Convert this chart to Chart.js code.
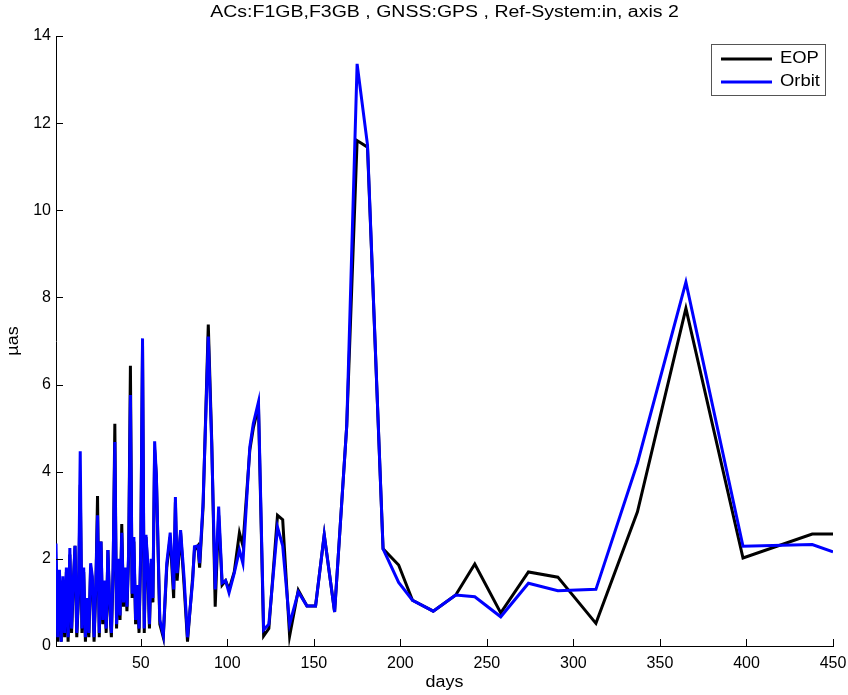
<!DOCTYPE html>
<html>
<head>
<meta charset="utf-8">
<script src="https://cdn.jsdelivr.net/npm/chart.js@4.4.1/dist/chart.umd.min.js"></script>
<style>
  body { margin: 0; background: #fff; }
  #wrap { width: 848px; height: 695px; }
</style>
</head>
<body>
<div id="wrap"><canvas id="grafica" width="848" height="695"></canvas></div>
<script>
/* DATOS: días de cada solución y valores en µas */
const dias = [
  1, 2, 3, 4, 5, 6, 7, 8, 9, 10, 11, 12, 13, 14, 15, 16, 17, 18, 19, 20,
  21, 22, 23, 24, 25, 26, 27, 28, 29, 30, 31, 32, 33, 34, 35, 36, 37, 38, 39, 40,
  41, 42, 43, 44, 45, 46, 47, 48, 49, 50, 51, 52, 53, 54, 55, 56, 57, 58, 59,
  61, 63, 65, 67, 69, 70, 71, 73, 75, 77, 80, 81, 83, 84, 86, 89, 91, 93, 95, 97,
  99, 101, 104, 107, 109, 113, 115, 118, 121, 124, 129, 132, 136, 141, 146, 151, 156, 162, 169, 175,
  181, 190, 199, 207, 219, 232, 243, 258, 274, 291, 313, 337, 365, 398, 438, 450,
];

const eop = [
  2.0, 0.1, 1.7, 0.1, 1.5, 0.2, 1.7, 0.1, 2.1, 0.3, 1.4, 2.3, 0.2, 1.1, 3.7, 0.3, 1.7, 0.1, 1.0, 0.2,
  1.8, 1.5, 0.1, 1.3, 3.44, 0.2, 2.4, 0.5, 1.4, 0.3, 2.2, 0.9, 0.2, 1.7, 5.1, 0.4, 1.9, 0.6, 2.8, 0.9,
  1.7, 0.8, 2.1, 6.43, 1.1, 2.4, 0.5, 1.3, 0.3, 2.2, 6.9, 0.3, 2.5, 1.8, 0.4, 1.9, 1.0, 4.5, 3.9,
  0.5, 0.2, 1.8, 2.5, 1.1, 3.3, 1.5, 2.6, 1.4, 0.1, 1.6, 2.2, 2.3, 1.8, 3.2, 7.38, 4.7, 0.9, 3.0, 1.4,
  1.5, 1.3, 1.7, 2.6, 2.3, 4.5, 5.0, 5.5, 0.23, 0.4, 3.0, 2.9, 0.23, 1.28, 0.92, 0.92, 2.55, 0.78, 5.05, 11.6,
  11.45, 2.23, 1.86, 1.05, 0.8, 1.17, 1.88, 0.76, 1.7, 1.58, 0.52, 3.08, 7.75, 2.02, 2.57, 2.57,
];

const orbita = [
  2.35, 0.2, 1.75, 0.1, 1.6, 0.3, 1.8, 0.2, 2.25, 0.4, 1.5, 2.3, 0.3, 1.2, 4.47, 0.4, 1.8, 0.2, 1.1, 0.3,
  1.9, 1.6, 0.2, 1.4, 3.0, 0.3, 2.4, 0.6, 1.5, 0.4, 2.2, 1.0, 0.3, 1.8, 4.68, 0.5, 2.0, 0.7, 2.6, 1.0,
  1.8, 0.9, 2.2, 5.76, 1.2, 2.5, 0.6, 1.4, 0.4, 2.3, 7.06, 0.4, 2.55, 1.9, 0.5, 2.0, 1.1, 4.7, 3.9,
  0.6, 0.25, 1.9, 2.6, 1.3, 3.42, 1.67, 2.66, 1.58, 0.2, 1.5, 2.28, 2.3, 1.9, 3.3, 7.1, 4.6, 1.3, 3.2, 1.45,
  1.5, 1.22, 1.67, 2.2, 1.9, 4.57, 5.1, 5.6, 0.37, 0.5, 2.73, 2.3, 0.5, 1.24, 0.92, 0.92, 2.55, 0.78, 5.05, 13.36,
  11.5, 2.23, 1.46, 1.05, 0.8, 1.17, 1.13, 0.67, 1.44, 1.27, 1.3, 4.2, 8.35, 2.29, 2.33, 2.16,
];

const ticksX = [50, 100, 150, 200, 250, 300, 350, 400, 450];
const ticksY = [0, 2, 4, 6, 8, 10, 12, 14];
const titulo = 'ACs:F1GB,F3GB , GNSS:GPS , Ref-System:in, axis 2';
const tituloX = 'days';
const tituloY = 'µas';
const FUENTE = '"Liberation Sans", Arial, sans-serif';

const puntos = valores => dias.map((d, i) => ({ x: d, y: valores[i] }));

/* Texto algo más ancho, como el de la figura original */
function texto(ctx, cadena, x, y, ancho, giro) {
  ctx.save();
  ctx.translate(x, y);
  if (giro) ctx.rotate(giro);
  ctx.scale(ancho, 1);
  ctx.fillText(cadena, 0, 0);
  ctx.restore();
}

/* TÍTULOS, MARCAS HACIA DENTRO Y LEYENDA */
const extras = {
  id: 'extras',
  afterDraw(chart) {
    const { ctx, chartArea, scales } = chart;
    const centroX = (chartArea.left + chartArea.right) / 2;
    const centroY = (chartArea.top + chartArea.bottom) / 2;
    ctx.save();

    ctx.fillStyle = '#000';
    ctx.font = `16px ${FUENTE}`;
    ctx.textAlign = 'center';
    ctx.textBaseline = 'middle';
    texto(ctx, titulo, centroX, 13, 1.22);
    texto(ctx, tituloX, centroX, 683, 1.12);
    texto(ctx, tituloY, 14, centroY, 1.12, -Math.PI / 2);

    /* Marcas de los ejes */
    ctx.strokeStyle = '#000';
    ctx.lineWidth = 1;
    ticksX.forEach(v => {
      const px = Math.round(scales.x.getPixelForValue(v)) + 0.5;
      ctx.beginPath();
      ctx.moveTo(px, chartArea.bottom);
      ctx.lineTo(px, chartArea.bottom - 7);
      ctx.stroke();
    });
    ticksY.forEach(v => {
      const py = Math.round(scales.y.getPixelForValue(v)) + 0.5;
      ctx.beginPath();
      ctx.moveTo(chartArea.left, py);
      ctx.lineTo(chartArea.left + 7, py);
      ctx.stroke();
    });

    /* Leyenda con recuadro */
    const lx = 711.5, ly = 44.5, lw = 114, lh = 51;
    ctx.fillStyle = '#fff';
    ctx.fillRect(lx, ly, lw, lh);
    ctx.strokeStyle = '#555';
    ctx.strokeRect(lx, ly, lw, lh);
    chart.data.datasets.slice().reverse().forEach((ds, i) => {
      const y = 59 + i * 23;
      ctx.strokeStyle = ds.borderColor;
      ctx.lineWidth = 3;
      ctx.beginPath();
      ctx.moveTo(721, y);
      ctx.lineTo(772, y);
      ctx.stroke();
      ctx.fillStyle = '#000';
      ctx.textAlign = 'left';
      texto(ctx, ds.label, 780, y, 1.15);
    });

    ctx.restore();
  },
};

/* GRÁFICA */
new Chart(document.getElementById('grafica'), {
  type: 'line',
  data: {
    datasets: [
      {
        label: 'Orbit',
        data: puntos(orbita),
        borderColor: '#0000ff',
        borderWidth: 3,
        pointRadius: 0,
        tension: 0,
        order: 0,
      },
      {
        label: 'EOP',
        data: puntos(eop),
        borderColor: '#000000',
        borderWidth: 3,
        pointRadius: 0,
        tension: 0,
        order: 1,
      },
    ],
  },
  options: {
    responsive: false,
    animation: false,
    events: [],
    layout: { padding: { top: 36, right: 15, left: 0, bottom: 0 } },
    plugins: {
      legend: { display: false },
      tooltip: { enabled: false },
    },
    scales: {
      x: {
        type: 'linear',
        min: 1,
        max: 450,
        afterBuildTicks: eje => { eje.ticks = ticksX.map(v => ({ value: v })); },
        afterFit: eje => {
          eje.height = 49;
          eje.paddingLeft = 0;
          eje.paddingRight = 0;
        },
        grid: { display: false, drawTicks: false },
        border: { color: '#000', width: 1 },
        ticks: { color: '#000', padding: 8, font: { family: FUENTE, size: 16 }, maxRotation: 0 },
      },
      y: {
        min: 0,
        max: 14,
        afterBuildTicks: eje => { eje.ticks = ticksY.map(v => ({ value: v })); },
        afterFit: eje => { eje.width = 56; },
        grid: { display: false, drawTicks: false },
        border: { color: '#000', width: 1 },
        ticks: { color: '#000', padding: 5, font: { family: FUENTE, size: 16 } },
      },
    },
  },
  plugins: [extras],
});
</script>
</body>
</html>
